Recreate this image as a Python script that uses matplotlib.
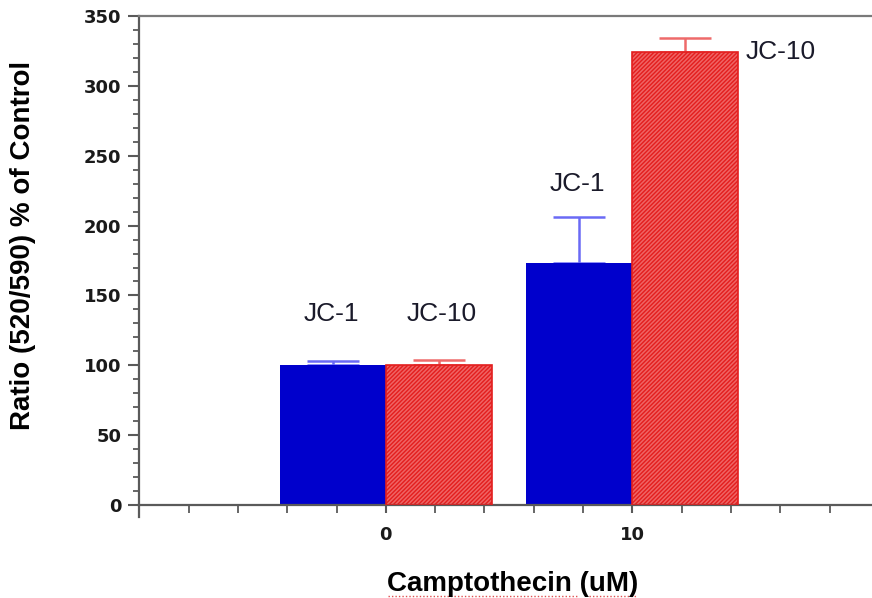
import matplotlib
matplotlib.use("Agg")
import matplotlib.pyplot as plt
from matplotlib.ticker import MultipleLocator, FixedLocator
import matplotlib.lines as mlines

# ---- data ----
doses = [0, 10]
xtick_labels = ["0", "10"]
jc1_values = [100, 173]
jc1_err = [3, 33]
jc10_values = [100, 324]
jc10_err = [4, 10]
bar_labels = ["JC-1", "JC-10"]

xlabel = "Camptothecin (uM)"
ylabel = "Ratio (520/590) % of Control"

BLUE = "#0000cc"
BLUE_ERR = "#6a6af5"
RED = "#e31e1e"
RED_HATCH = "#ef6464"
RED_ERR = "#ee6a6a"
SPINE = "#5a5a5a"

W = 4.3

plt.rcParams["hatch.linewidth"] = 1.1

fig = plt.figure(figsize=(8.72, 5.98), dpi=100)
ax = fig.add_axes([0.1597, 0.1555, 1.008 - 0.1597, 0.9732 - 0.1555])

# JC-1 bars (left of dose)
ax.bar(doses, jc1_values, width=-W, align="edge", color=BLUE, edgecolor=BLUE,
       linewidth=0, zorder=2)
# JC-10 bars (right of dose), hatched
ax.bar(doses, jc10_values, width=W, align="edge", color=RED, edgecolor=RED_HATCH,
       hatch="////////", linewidth=0, zorder=2)
ax.bar(doses, jc10_values, width=W, align="edge", fill=False, edgecolor=RED,
       linewidth=1.2, zorder=3)

jc1_x = [d - W / 2 for d in doses]
jc10_x = [d + W / 2 for d in doses]
ax.errorbar(jc1_x, jc1_values, yerr=[[0] * len(jc1_err), jc1_err], fmt="none",
            ecolor=BLUE_ERR, elinewidth=1.8, capsize=18.5, capthick=1.8, zorder=1)
ax.errorbar(jc10_x, jc10_values, yerr=[[0] * len(jc10_err), jc10_err], fmt="none",
            ecolor=RED_ERR, elinewidth=1.8, capsize=18.5, capthick=1.8, zorder=1)

# annotations
tfont = dict(family=["Liberation Sans", "DejaVu Sans"], fontsize=19, color="#1a1a2a")
ax.text(-2.2, 137, bar_labels[0], ha="center", va="center", **tfont)
ax.text(2.25, 137, bar_labels[1], ha="center", va="center", **tfont)
ax.text(7.75, 230, bar_labels[0], ha="center", va="center", **tfont)
ax.text(14.6, 324, bar_labels[1], ha="left", va="center", **tfont)

ax.set_xlim(-10, 20)
ax.set_ylim(0, 350)

ax.yaxis.set_major_locator(MultipleLocator(50))
ax.yaxis.set_minor_locator(MultipleLocator(10))
ax.xaxis.set_major_locator(FixedLocator(doses))
ax.set_xticklabels(xtick_labels)
ax.xaxis.set_minor_locator(MultipleLocator(2))

for s in ["left", "bottom", "top"]:
    ax.spines[s].set_color(SPINE)
    ax.spines[s].set_linewidth(1.6)
ax.spines["top"].set_color("#7a7a7a")
ax.spines["right"].set_visible(False)

ax.tick_params(axis="both", which="major", direction="out", length=8, width=1.5,
               color=SPINE, pad=5)
ax.tick_params(axis="both", which="minor", direction="out", length=4, width=1.3,
               color=SPINE)
ax.tick_params(axis="x", which="minor", length=6)
ax.tick_params(axis="x", which="major", length=6, pad=9)

for lab in ax.get_yticklabels() + ax.get_xticklabels():
    lab.set_fontfamily(["DejaVu Sans"])
    lab.set_fontweight("bold")
    lab.set_fontsize(13)
    lab.set_color("#1a1a1a")

# left spine extends a little below the x axis
ax.add_line(mlines.Line2D([0, 0], [-0.025, 0], transform=ax.transAxes, color=SPINE,
                          linewidth=1.6, clip_on=False))

lfont = dict(family=["Liberation Sans", "DejaVu Sans"], fontweight="bold")
fig.text(23 / 872, 1 - 245 / 598, ylabel, rotation=90, ha="center", va="center",
         fontsize=20, **lfont)
fig.text(513 / 872, 1 - 591 / 598, xlabel, ha="center", va="baseline",
         fontsize=20, **lfont)

# dotted spell-check underline below the x label
fig.add_artist(mlines.Line2D([388 / 872, 579 / 872], [0.003, 0.003], color="#e05050",
                             linewidth=1, linestyle=(0, (1, 1.5))))
fig.add_artist(mlines.Line2D([589 / 872, 636 / 872], [0.003, 0.003], color="#e05050",
                             linewidth=1, linestyle=(0, (1, 1.5))))

fig.savefig("out.png", dpi=100)
